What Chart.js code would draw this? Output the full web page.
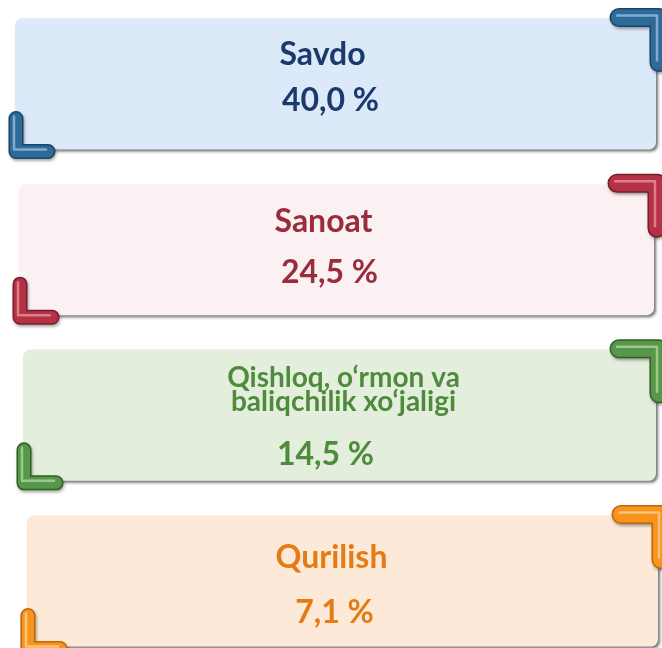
<!DOCTYPE html>
<html>
<head>
<meta charset="utf-8">
<script src="https://cdn.jsdelivr.net/npm/chart.js@4"></script>
<style>
  html, body { margin: 0; padding: 0; background: #ffffff; }
  .wrap { width: 662px; height: 648px; position: relative; }
</style>
</head>
<body>
<div class="wrap"><canvas id="chart"></canvas></div>
<script>
// sectors and their shares (%)
const sectors = [
  ['Savdo'],
  ['Sanoat'],
  ['Qishloq, o‘rmon va', 'baliqchilik xo‘jaligi'],
  ['Qurilish']
];
const shares = [40.0, 24.5, 14.5, 7.1];

// colours per card
const cardFill = ['#DCE9F8', '#FCF1F2', '#E3EFDC', '#FCE9D7'];
const textColor = ['#1B3A6B', '#9A2C3C', '#4E8B3D', '#E57B14'];
const bracketMain = ['#2E6A98', '#B43246', '#58964A', '#F7941E'];
const bracketDark = ['#1A4466', '#7A1C2A', '#2F6127', '#C0650A'];
const bracketLight = ['#9CC2E0', '#EC95A2', '#B2DAA4', '#FFD395'];

// small layout tweaks (the cards drift right a little)
const cardLeftShift = [0, 4, 8, 12];
const cardRightShift = [0, -2, 0, 2];
const titleDx = [-13, -13, 4, -11];
const titleDy = [-19, -18, -28, -13];
const valueDx = [-5, -7, -14, -8];
const valueDy = [27, 33, 50, 42];

const fmt = v => v.toFixed(1).replace('.', ',') + ' %';

function roundRect(ctx, x, y, w, h, r) {
  ctx.beginPath();
  ctx.moveTo(x + r, y);
  ctx.arcTo(x + w, y, x + w, y + h, r);
  ctx.arcTo(x + w, y + h, x, y + h, r);
  ctx.arcTo(x, y + h, x, y, r);
  ctx.arcTo(x, y, x + w, y, r);
  ctx.closePath();
}

function drawBracket(ctx, pts, w, i) {
  const path = (dx, dy) => {
    ctx.beginPath();
    ctx.moveTo(pts[0][0] + dx, pts[0][1] + dy);
    for (let k = 1; k < pts.length; k++) ctx.lineTo(pts[k][0] + dx, pts[k][1] + dy);
  };
  ctx.save();
  ctx.lineCap = 'round';
  ctx.lineJoin = 'round';
  ctx.shadowColor = 'rgba(0,0,0,0.35)';
  ctx.shadowBlur = 3;
  ctx.shadowOffsetX = 1;
  ctx.shadowOffsetY = 2;
  path(0, 0);
  ctx.strokeStyle = bracketDark[i];
  ctx.lineWidth = w;
  ctx.stroke();
  ctx.shadowColor = 'transparent';
  path(0, 0);
  ctx.strokeStyle = bracketMain[i];
  ctx.lineWidth = w - 3;
  ctx.stroke();
  path(-2, -2);
  ctx.strokeStyle = bracketLight[i];
  ctx.globalAlpha = 0.75;
  ctx.lineWidth = 2.5;
  ctx.stroke();
  ctx.restore();
}

const cardsPlugin = {
  id: 'cards',
  afterDatasetsDraw(chart) {
    const ctx = chart.ctx;
    const meta = chart.getDatasetMeta(0);
    meta.data.forEach((bar, i) => {
      const left = bar.base + cardLeftShift[i];
      const right = bar.x + cardRightShift[i];
      const top = bar.y - bar.height / 2;
      const bottom = bar.y + bar.height / 2;
      const cx = (left + right) / 2;

      // card
      ctx.save();
      ctx.shadowColor = 'rgba(0,0,0,0.55)';
      ctx.shadowBlur = 3;
      ctx.shadowOffsetX = 2;
      ctx.shadowOffsetY = 2;
      roundRect(ctx, left, top, right - left, bottom - top, 7);
      ctx.fillStyle = cardFill[i];
      ctx.fill();
      ctx.restore();

      // corner brackets
      drawBracket(ctx, [[right - 37, top - 1], [right + 3, top - 1], [right + 3, top + 44]], 19, i);
      drawBracket(ctx, [[left + 1, bottom - 31], [left + 1, bottom + 2], [left + 33, bottom + 2]], 15, i);

      // texts
      ctx.save();
      ctx.fillStyle = textColor[i];
      ctx.textAlign = 'center';
      ctx.textBaseline = 'alphabetic';
      const lines = sectors[i];
      if (lines.length > 1) {
        ctx.font = 'bold 28px Lato';
        lines.forEach((ln, k) => ctx.fillText(ln, cx + titleDx[i], bar.y + titleDy[i] + k * 24));
      } else {
        ctx.font = 'bold 32px Lato';
        ctx.fillText(lines[0], cx + titleDx[i], bar.y + titleDy[i]);
      }
      ctx.font = 'bold 32px Lato';
      ctx.fillText(fmt(shares[i]), cx + valueDx[i], bar.y + valueDy[i]);
      ctx.restore();
    });
  }
};

new Chart(document.getElementById('chart').getContext('2d'), {
  type: 'bar',
  data: {
    labels: sectors,
    datasets: [{
      label: 'Ulush',
      data: sectors.map(() => 1),
      backgroundColor: 'rgba(0,0,0,0)',
      barThickness: 131,
      clip: false
    }]
  },
  options: {
    indexAxis: 'y',
    responsive: true,
    maintainAspectRatio: false,
    animation: false,
    layout: { padding: { left: 15, right: 6, top: 84, bottom: 67 } },
    scales: {
      x: { display: false, min: 0, max: 1 },
      y: { display: false, offset: false }
    },
    plugins: {
      legend: { display: false },
      tooltip: { enabled: false }
    }
  },
  plugins: [cardsPlugin]
});
</script>
</body>
</html>
